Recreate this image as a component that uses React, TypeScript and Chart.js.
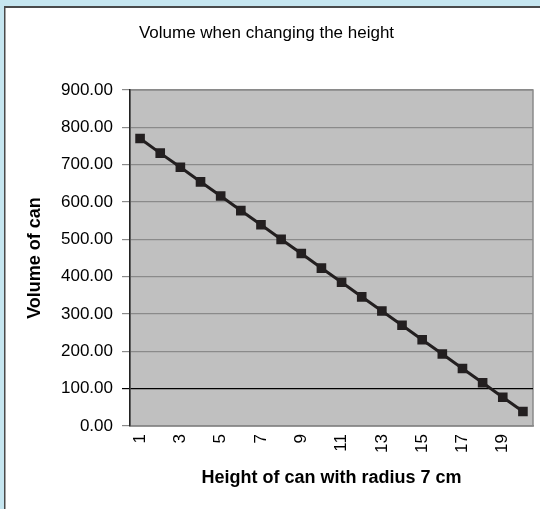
import React, { useEffect, useRef } from "react";
import { Chart, registerables } from "chart.js";

Chart.register(...registerables);

const heights = ["1","2","3","4","5","6","7","8","9","10","11","12","13","14","15","16","17","18","19","20"];
const volumes = [770, 731, 693, 654, 616, 577, 539, 500, 462, 423, 385, 346, 308, 270, 231, 193, 154, 116, 77, 39];
const yTicks = [0, 100, 200, 300, 400, 500, 600, 700, 800, 900];

const chartTitle = "Volume when changing the height";
const xTitle = "Height of can with radius 7 cm";
const yTitle = "Volume of can";

const bgPlugin = {
  id: "bgPlugin",
  beforeDraw(chart: any) {
    const { ctx, width, height, chartArea } = chart;
    ctx.save();
    ctx.fillStyle = "#c6e6f0";
    ctx.fillRect(0, 0, width, height);
    ctx.fillStyle = "#ffffff";
    ctx.fillRect(4, 6, width - 4, height - 6);
    ctx.fillStyle = "#4a4a4a";
    ctx.fillRect(4, 6, width - 4, 2);
    ctx.fillRect(4, 6, 1.5, height - 6);
    ctx.fillStyle = "#c0c0c0";
    ctx.fillRect(chartArea.left, chartArea.top, chartArea.right - chartArea.left, chartArea.bottom - chartArea.top);
    ctx.strokeStyle = "#8a8a8a";
    ctx.lineWidth = 1.5;
    ctx.strokeRect(chartArea.left, chartArea.top, chartArea.right - chartArea.left, chartArea.bottom - chartArea.top);
    ctx.restore();
  },
};

export default function App() {
  const ref = useRef<HTMLCanvasElement | null>(null);
  useEffect(() => {
    if (!ref.current) return;
    Chart.defaults.font.family = "'Liberation Sans', Arial, sans-serif";
    Chart.defaults.color = "#000";
    const chart = new Chart(ref.current, {
      type: "line",
      data: {
        labels: heights,
        datasets: [
          {
            data: volumes,
            borderColor: "#231f20",
            borderWidth: 3,
            pointStyle: "rect",
            pointRadius: 6.8,
            pointBackgroundColor: "#231f20",
            pointBorderWidth: 0,
            tension: 0,
          },
        ],
      },
      options: {
        responsive: false,
        animation: false,
        devicePixelRatio: 1,
        layout: { padding: { left: 0, right: 7, top: 0, bottom: 0 } },
        plugins: {
          legend: { display: false },
          tooltip: { enabled: false },
          title: {
            display: true,
            text: chartTitle,
            color: "#000",
            font: { size: 17, weight: "normal" },
            padding: { top: 22.8, bottom: 46.8 },
          },
        },
        scales: {
          x: {
            type: "category",
            offset: true,
            grid: { display: false, drawTicks: false },
            border: { color: "#8a8a8a", width: 1.5 },
            ticks: {
              autoSkip: false,
              minRotation: 90,
              maxRotation: 90,
              padding: 8,
              font: { size: 17 },
              color: "#000",
              callback: (_v: any, i: number) => (i % 2 === 0 ? heights[i] : ""),
            },
            title: {
              display: true,
              text: xTitle,
              font: { size: 18, weight: "bold" },
              color: "#000",
              padding: { top: 0, bottom: 20.2 },
            },
            afterFit: (s: any) => {
              s.height = 83;
              s.paddingLeft = 0;
              s.paddingRight = 0;
            },
          },
          y: {
            min: 0,
            max: 900,
            afterBuildTicks: (s: any) => {
              s.ticks = yTicks.map((v) => ({ value: v }));
            },
            grid: {
              color: (c: any) => (c.tick && c.tick.value === 100 ? "#000" : "#8a8a8a"),
              lineWidth: 1.2,
              tickLength: 8,
            },
            border: { color: "#222", width: 1.5 },
            ticks: {
              padding: 9,
              font: { size: 17 },
              color: "#000",
              callback: (v: any) => Number(v).toFixed(2),
            },
            title: {
              display: true,
              text: yTitle,
              font: { size: 18, weight: "bold" },
              color: "#000",
              padding: { top: 24.2, bottom: 0 },
            },
            afterFit: (s: any) => {
              s.width = 130;
            },
          },
        },
      },
      plugins: [bgPlugin],
    });
    return () => chart.destroy();
  }, []);
  return (
    <div style={{ position: "fixed", left: 0, top: 0, width: 540, height: 509 }}>
      <canvas ref={ref} width={540} height={509} style={{ display: "block", width: 540, height: 509 }} />
    </div>
  );
}
